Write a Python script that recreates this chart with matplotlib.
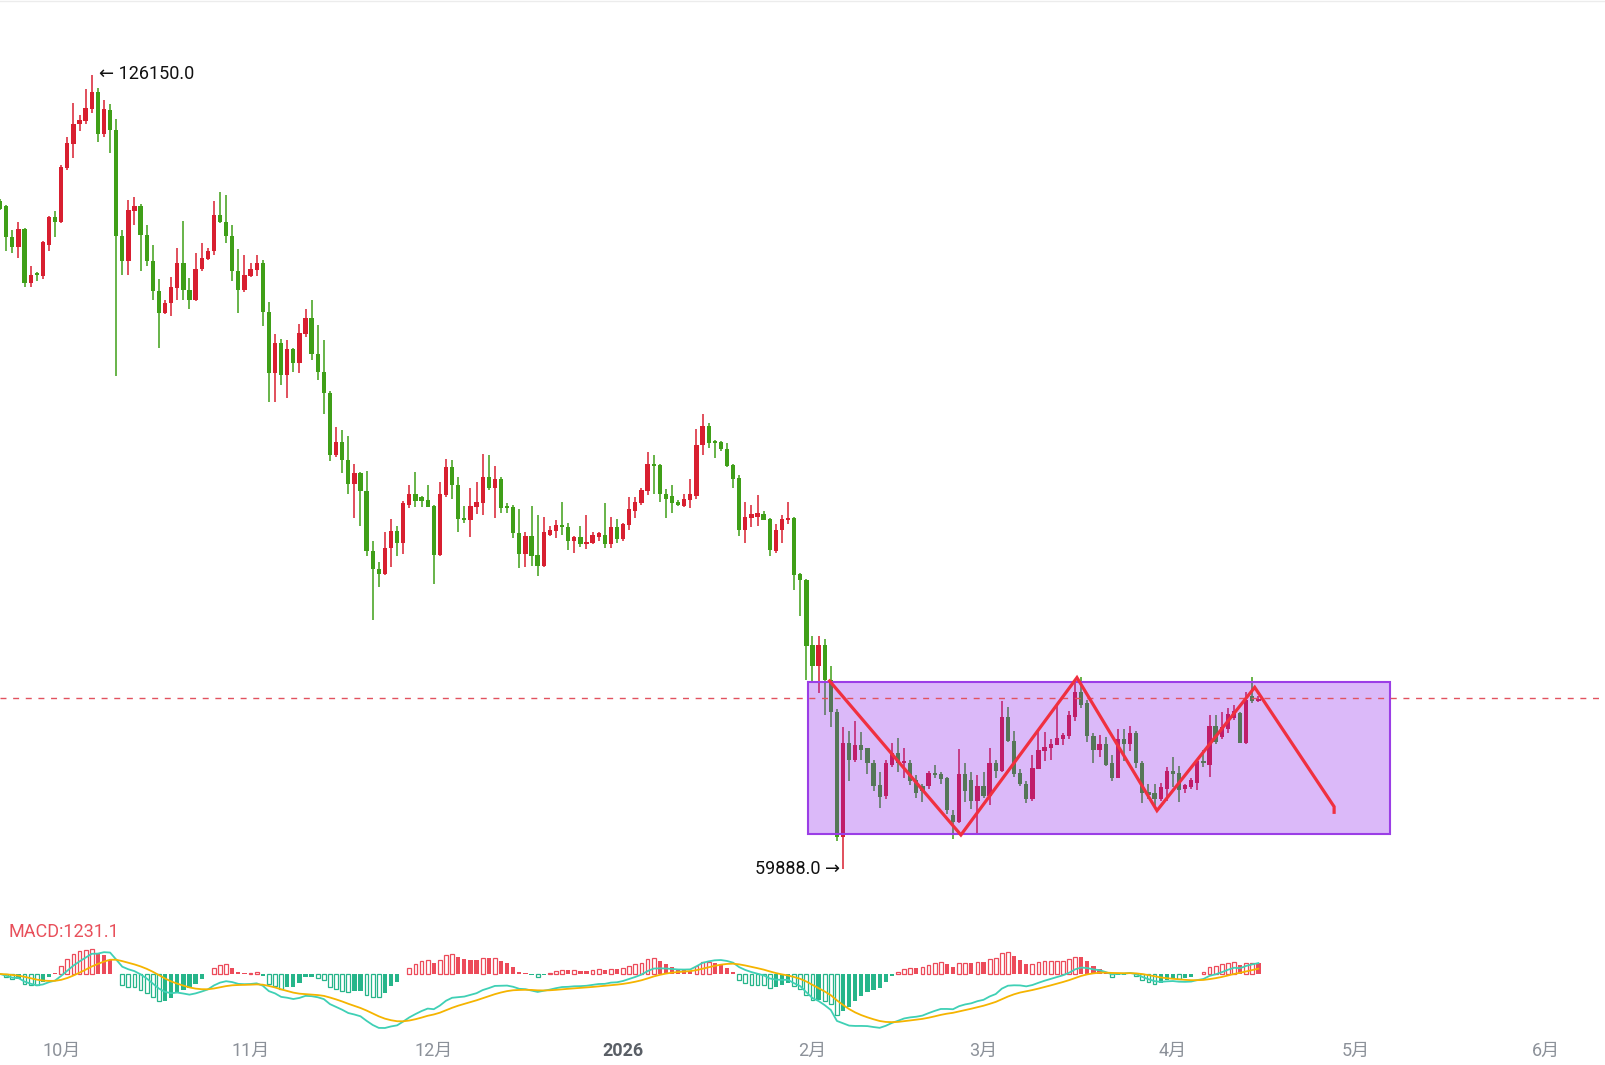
import numpy as np
import pandas as pd
import matplotlib
matplotlib.use('Agg')
import matplotlib.pyplot as plt
from matplotlib.patches import Rectangle

plt.rcParams['font.family'] = ['Roboto', 'Noto Sans CJK SC', 'DejaVu Sans']

# 日K数据 (单位: 千美元), 第一根为 2025-09-21
start_date = '2025-09-21'
opens = [115.6, 115.2, 112.6, 111.8, 113.3, 108.8, 109.6, 109.4, 112.0, 114.3,
         113.9, 118.4, 120.4, 122.1, 122.3, 123.3, 124.7, 121.2, 123.2, 121.6,
         112.7, 110.6, 114.8, 115.2, 112.8, 110.6, 108.1, 106.3, 107.1, 108.4,
         110.5, 108.2, 107.4, 110.0, 110.8, 111.5, 114.5, 113.9, 112.7, 109.8,
         108.2, 109.4, 109.9, 110.5, 106.4, 101.3, 103.8, 101.1, 103.3, 102.1,
         104.5, 105.9, 102.9, 101.4, 99.6, 94.4, 95.5, 94.0, 92.0, 92.9,
         91.4, 86.4, 84.9, 84.5, 86.7, 88.1, 87.1, 90.3, 91.2, 90.9,
         90.7, 90.2, 86.1, 91.1, 93.4, 91.9, 89.2, 89.0, 90.1, 90.4,
         92.6, 91.7, 92.4, 90.2, 90.1, 87.9, 86.2, 87.7, 86.1, 85.2,
         87.8, 88.1, 88.6, 88.4, 87.3, 87.6, 87.0, 87.1, 87.6, 87.8,
         87.0, 88.4, 87.4, 88.6, 89.8, 90.4, 91.4, 93.7, 93.6, 91.2,
         91.0, 90.5, 90.2, 90.7, 91.0, 95.3, 96.9, 95.6, 95.5, 94.9,
         93.6, 92.5, 88.2, 89.2, 89.3, 89.5, 89.1, 86.4, 88.2, 89.0,
         89.2, 84.5, 84.0, 78.6, 76.8, 78.6, 75.7, 73.0, 62.6, 70.4,
         69.0, 70.2, 70.0, 68.7, 66.9, 66.0, 68.6, 69.6, 68.7, 68.7,
         67.3, 66.8, 66.8, 67.9, 67.8, 67.5, 64.4, 63.8, 67.8, 67.3,
         65.6, 66.8, 66.0, 68.7, 68.1, 72.6, 70.6, 67.9, 67.0, 65.7,
         68.2, 69.7, 70.0, 70.2, 70.7, 71.0, 72.6, 74.7, 73.7, 71.0,
         69.8, 70.3, 68.7, 67.5, 70.7, 70.3, 71.2, 68.7, 66.3, 66.2,
         65.7, 66.6, 68.1, 67.9, 66.6, 66.7, 67.1, 68.9, 68.6, 71.8,
         70.9, 71.6, 72.5, 72.9, 70.4, 74.3, 73.9]
highs = [115.8, 115.3, 113.2, 113.9, 113.4, 110.2, 109.7, 112.3, 114.4, 114.8,
         118.6, 121.0, 123.8, 122.8, 125.0, 126.15, 125.1, 124.1, 123.7, 122.5,
         113.2, 115.7, 116.0, 115.4, 113.6, 112.0, 109.1, 107.4, 109.3, 111.7,
         114.0, 109.2, 111.3, 112.1, 111.7, 115.6, 116.4, 116.1, 113.6, 111.6,
         111.1, 110.5, 111.1, 110.7, 107.2, 104.5, 104.1, 104.0, 103.4, 105.4,
         106.6, 107.4, 105.3, 104.0, 99.8, 96.8, 96.5, 96.0, 93.7, 93.0,
         93.1, 87.3, 85.5, 88.0, 89.1, 88.5, 90.6, 91.9, 93.0, 91.0,
         91.9, 90.3, 92.2, 94.1, 94.0, 92.6, 90.2, 91.7, 92.2, 94.5,
         94.4, 93.5, 92.6, 90.4, 90.3, 89.9, 88.0, 90.2, 89.4, 89.3,
         88.5, 89.0, 90.5, 88.8, 87.7, 88.5, 89.4, 88.0, 88.0, 90.4,
         89.3, 89.1, 88.8, 90.9, 90.9, 91.7, 94.7, 94.4, 93.7, 91.6,
         91.9, 90.7, 91.2, 92.4, 96.6, 97.9, 97.1, 95.7, 95.6, 95.4,
         93.7, 92.8, 90.5, 90.3, 91.1, 89.8, 89.2, 88.7, 89.4, 90.5,
         89.3, 84.6, 84.1, 79.3, 79.3, 79.1, 76.8, 73.2, 71.7, 71.4,
         72.2, 71.3, 70.0, 69.0, 68.0, 69.0, 70.4, 70.8, 70.0, 69.0,
         67.7, 67.0, 68.1, 68.6, 68.0, 67.6, 64.8, 69.9, 68.7, 68.0,
         67.7, 68.0, 70.0, 69.0, 73.9, 73.4, 71.4, 68.2, 67.2, 69.4,
         71.5, 71.3, 70.7, 73.6, 71.2, 73.1, 75.5, 75.9, 74.0, 71.2,
         71.1, 70.9, 69.4, 71.6, 71.6, 71.8, 71.4, 68.9, 67.0, 67.0,
         67.1, 68.4, 69.2, 68.5, 67.0, 67.5, 69.0, 69.8, 72.7, 72.7,
         73.0, 73.3, 73.6, 73.0, 74.7, 75.9, 74.3]
lows = [114.9, 111.5, 111.3, 110.9, 108.5, 108.5, 109.0, 109.1, 111.5, 112.6,
        113.8, 118.2, 119.2, 121.5, 122.1, 123.0, 120.6, 121.0, 119.6, 101.0,
        109.5, 109.5, 113.6, 109.8, 110.2, 107.4, 103.4, 106.2, 106.0, 107.4,
        107.4, 106.6, 107.3, 109.8, 110.7, 111.1, 113.8, 112.1, 109.0, 106.3,
        108.0, 109.3, 109.4, 105.2, 98.9, 98.9, 100.3, 99.2, 101.4, 101.3,
        104.3, 102.4, 100.7, 97.9, 93.9, 94.3, 92.9, 91.2, 89.2, 88.5,
        86.0, 80.7, 83.4, 84.4, 85.1, 86.0, 86.2, 90.0, 90.1, 90.1,
        90.1, 83.7, 86.0, 90.9, 90.8, 88.0, 88.8, 87.6, 89.5, 89.4,
        91.5, 89.2, 89.6, 89.6, 87.5, 85.0, 85.1, 85.2, 84.3, 85.1,
        87.7, 87.5, 87.8, 86.5, 86.3, 86.8, 86.6, 87.0, 87.3, 86.7,
        86.7, 87.1, 87.3, 88.2, 89.2, 90.3, 91.1, 91.2, 90.5, 89.2,
        89.6, 90.2, 90.1, 90.0, 90.8, 94.4, 95.0, 94.2, 94.8, 93.4,
        91.7, 87.7, 87.1, 88.4, 88.5, 89.0, 86.0, 86.3, 87.1, 88.7,
        83.2, 81.0, 75.7, 75.6, 74.6, 72.7, 71.7, 62.2, 59.888, 67.2,
        68.8, 69.0, 67.8, 66.4, 65.0, 65.7, 68.4, 68.0, 67.5, 66.9,
        65.8, 65.5, 66.6, 67.5, 67.0, 64.5, 62.4, 63.7, 65.5, 64.9,
        62.9, 65.8, 65.2, 67.5, 68.0, 70.5, 67.6, 66.8, 65.4, 65.6,
        68.2, 68.9, 69.0, 70.2, 70.2, 70.7, 72.2, 73.3, 70.5, 68.7,
        69.2, 68.5, 67.2, 67.5, 68.9, 69.7, 68.3, 65.4, 65.7, 65.1,
        65.6, 65.6, 66.7, 65.5, 66.2, 66.6, 66.5, 68.4, 67.6, 70.3,
        70.7, 71.2, 72.3, 70.4, 70.3, 73.7, 73.8]
closes = [115.0, 112.6, 111.8, 113.3, 108.8, 109.5, 109.5, 112.2, 114.3, 113.9,
          118.5, 120.5, 122.1, 122.4, 123.4, 124.7, 121.2, 123.3, 121.6, 112.7,
          110.6, 114.9, 115.2, 112.8, 110.6, 108.1, 106.3, 107.1, 108.5, 110.5,
          108.2, 107.4, 110.0, 110.9, 111.5, 114.5, 113.9, 112.7, 109.8, 108.2,
          109.5, 110.0, 110.5, 106.4, 101.3, 103.8, 101.1, 103.3, 102.1, 104.6,
          105.9, 102.9, 101.4, 99.6, 94.4, 95.5, 94.0, 92.0, 92.9, 91.4,
          86.4, 84.9, 84.5, 86.7, 88.1, 87.1, 90.4, 91.2, 90.6, 90.6,
          90.1, 86.1, 91.2, 93.4, 91.9, 89.1, 89.0, 90.2, 90.5, 92.6,
          91.7, 92.4, 90.0, 90.0, 87.9, 86.2, 87.7, 86.0, 85.2, 88.0,
          88.2, 88.6, 88.4, 87.3, 87.6, 87.0, 87.2, 87.8, 87.9, 87.0,
          88.4, 87.4, 88.7, 89.9, 90.5, 91.5, 93.7, 93.5, 91.2, 90.8,
          90.4, 90.3, 90.8, 91.2, 95.3, 96.9, 95.4, 95.4, 94.9, 93.5,
          92.4, 88.2, 89.3, 89.5, 89.6, 89.0, 86.5, 88.2, 89.1, 89.2,
          84.4, 84.0, 78.5, 76.8, 78.6, 75.7, 73.0, 62.6, 70.4, 69.0,
          70.2, 69.8, 68.7, 66.8, 65.9, 68.7, 69.6, 68.7, 68.9, 67.2,
          66.2, 66.4, 67.9, 67.7, 67.4, 64.8, 63.8, 67.8, 66.4, 65.6,
          66.8, 66.0, 68.7, 68.1, 72.6, 70.6, 67.8, 67.0, 65.7, 68.3,
          69.8, 70.1, 70.3, 70.8, 71.1, 72.7, 74.7, 73.6, 71.0, 69.8,
          70.3, 68.6, 67.5, 70.7, 70.3, 71.2, 68.7, 66.2, 66.1, 65.7,
          66.7, 68.1, 67.8, 66.5, 66.9, 67.3, 68.9, 68.7, 71.8, 70.5,
          71.7, 72.8, 73.1, 70.4, 74.0, 73.9, 74.1]

tick_dates = ['2025-10-01', '2025-11-01', '2025-12-01', '2026-01-01', '2026-02-01',
              '2026-03-01', '2026-04-01', '2026-05-01', '2026-06-01']
tick_labels = ['10月', '11月', '12月', '2026', '2月', '3月', '4月', '5月', '6月']

# 区间框、压力虚线、折线 (日序号, 千美元)
box_days = [132.2, 227.6]
box_prices = [62.79, 75.52]
resist_price = 74.14
zigzag_day = [135.8, 157.3, 176.3, 189.4, 205.4, 218.4, 218.4]
zigzag_price = [75.58, 62.73, 75.86, 64.76, 75.05, 65.09, 64.62]
macd_label = 'MACD:1231.1'

UP = '#d81f30'
DOWN = '#3f9f18'

o = np.array(opens)
h = np.array(highs)
l = np.array(lows)
c = np.array(closes)
x = np.arange(len(c))
t0 = pd.Timestamp(start_date)
tick_pos = [(pd.Timestamp(t) - t0).days for t in tick_dates]


def ema(v, n):
    a = 2.0 / (n + 1)
    out = np.empty_like(v)
    out[0] = v[0]
    for i in range(1, len(v)):
        out[i] = a * v[i] + (1 - a) * out[i - 1]
    return out


price = c * 1000
dif = ema(price, 12) - ema(price, 26)
dea = ema(dif, 9)
hist = 2 * (dif - dea)

fig = plt.figure(figsize=(16.05, 10.65), dpi=100)
W, H = 1605, 1065
ax = fig.add_axes([0, 1 - 880 / H, 1, 880 / H])
ax2 = fig.add_axes([0, 30 / H, 1, 135 / H])

xlim = (-0.02, 262.75)
for a in (ax, ax2):
    a.set_xlim(*xlim)
    for s in a.spines.values():
        s.set_visible(False)
    a.set_yticks([])

# 蜡烛图
cols = [UP if cc >= oo else DOWN for oo, cc in zip(o, c)]
ax.vlines(x, l, h, colors=cols, lw=1.1, zorder=2)
body = np.maximum(np.abs(c - o), 0.12)
ax.bar(x, body, bottom=np.minimum(o, c), width=0.7, color=cols, lw=0, zorder=2)
ax.set_ylim(58.97, 132.41)
ax.set_xticks([])

ax.add_patch(Rectangle((box_days[0], box_prices[0]), box_days[1] - box_days[0],
                       box_prices[1] - box_prices[0],
                       facecolor=(138 / 255, 25 / 255, 238 / 255, 0.3),
                       edgecolor='#9b3ee6', lw=1.5, zorder=3))
ax.axhline(resist_price, color='#e2525f', lw=1.0, ls=(0, (4.3, 4.8)), zorder=4)
ax.plot(zigzag_day, zigzag_price, color='#f03040', lw=2.3, solid_joinstyle='miter', zorder=5)

ih = int(np.argmax(h))
il = int(np.argmin(l))
ax.annotate('← %.1f' % (h[ih] * 1000), xy=(ih, h[ih]), xytext=(5, 0.5),
            textcoords='offset points', ha='left', va='center', fontsize=13,
            color='#111111', family=['Roboto', 'DejaVu Sans'])
ax.annotate('%.1f →' % (l[il] * 1000), xy=(il, l[il]), xytext=(-2, 0),
            textcoords='offset points', ha='right', va='center', fontsize=13,
            color='#111111', family=['Roboto', 'DejaVu Sans'])

# MACD
RED = '#ec4b5a'
GREEN = '#26b58a'
prev = np.concatenate([[0], np.abs(hist[:-1])])
for xi, hv, pv in zip(x, hist, prev):
    col = RED if hv >= 0 else GREEN
    if abs(hv) > pv:
        ax2.bar(xi, hv, width=0.62, facecolor='white', edgecolor=col, lw=0.9, zorder=2)
    else:
        ax2.bar(xi, hv, width=0.7, color=col, lw=0, zorder=2)
ax2.plot(x, dif, color='#3fd0b5', lw=1.3, zorder=3)
ax2.plot(x, dea, color='#f5b400', lw=1.3, zorder=3)

R = -dif.min() / 0.4
ax2.set_ylim(-0.4519 * R, 0.5481 * R)

ax2.set_xticks(tick_pos)
ax2.set_xticklabels(tick_labels, fontsize=13, color='#8c9199')
ax2.tick_params(axis='x', length=0, pad=5)
for lab in ax2.get_xticklabels():
    if lab.get_text() == '2026':
        lab.set_fontweight('bold')
        lab.set_color('#5a5f66')

fig.text(9 / W, 1 - 932 / H, macd_label, color='#e8505b', fontsize=13,
         ha='left', va='center')
fig.add_artist(plt.Line2D([0, 1], [1 - 1 / H, 1 - 1 / H], color='#ececec', lw=1))

fig.savefig('out.png', dpi=100, facecolor='white')
